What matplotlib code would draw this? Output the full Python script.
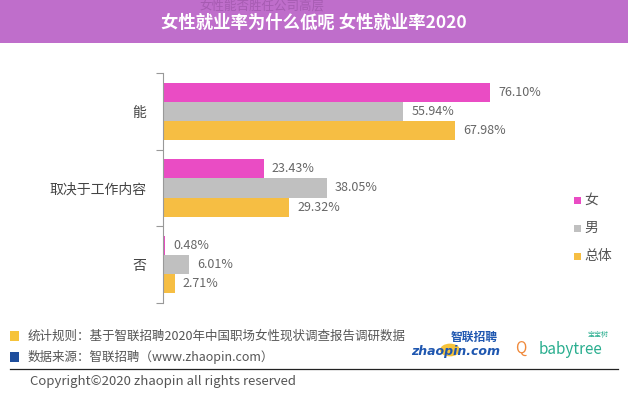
import numpy as np
import matplotlib.pyplot as plt
from matplotlib.patches import Rectangle, Circle

plt.rcParams['font.family'] = ['Noto Sans CJK SC', 'DejaVu Sans']

# data
categories = ['能', '取决于工作内容', '否']
series_names = ['女', '男', '总体']
female = [76.10, 23.43, 0.48]
male = [55.94, 38.05, 6.01]
total = [67.98, 29.32, 2.71]
colors = ['#EA4CC4', '#C0C0C0', '#F6BE43']

W, H = 628, 400
fig = plt.figure(figsize=(W / 100, H / 100), dpi=100)
fig.patch.set_facecolor('white')

# pixel helper for figure coordinates
def fx(x):
    return x / W
def fy(y):
    return 1 - y / H

# title bar
fig.patches.append(Rectangle((0, fy(43)), 1, 43 / H, transform=fig.transFigure,
                             facecolor='#BF6ECB', edgecolor='none', zorder=0))
fig.text(fx(262), fy(6), '女性能否胜任公司高层', color='#8E4A99', alpha=0.5,
         fontsize=9, ha='center', va='center', zorder=1)
fig.text(fx(314), fy(23), '女性就业率为什么低呢 女性就业率2020', color='white',
         fontsize=12.5, fontweight='bold', ha='center', va='center', zorder=2)

# chart axes
px_per_pct = (490 - 163) / 76.10
ax_left, ax_right, ax_top, ax_bot = 163, 545, 73, 303
ax = fig.add_axes([fx(ax_left), fy(ax_bot), (ax_right - ax_left) / W, (ax_bot - ax_top) / H])
ax.set_xlim(0, (ax_right - ax_left) / px_per_pct)
ax.set_ylim(2.5, -0.5)

y = np.arange(len(categories))
h = 0.25
for i, (vals, c) in enumerate(zip([female, male, total], colors)):
    pos = y + (i - 1) * h
    ax.barh(pos, vals, height=h, color=c, edgecolor='none', label=series_names[i])
    for p, v in zip(pos, vals):
        ax.text(v + 8 / px_per_pct, p, f'{v:.2f}%', va='center', ha='left',
                fontsize=9, color='#666666')

for s in ['top', 'right', 'bottom']:
    ax.spines[s].set_visible(False)
ax.spines['left'].set_color('#999999')
ax.spines['left'].set_linewidth(0.8)
ax.set_xticks([])
ax.set_yticks(y)
ax.set_yticklabels(categories, fontsize=10, color='#444444')
ax.tick_params(axis='y', which='major', length=0, pad=12)
ax.set_yticks([-0.5, 0.5, 1.5, 2.5], minor=True)
ax.tick_params(axis='y', which='minor', length=5, color='#999999', width=0.8)

# legend
for k, (name, c) in enumerate(zip(series_names, colors)):
    yy = 200 + k * 28
    fig.patches.append(Rectangle((fx(574), fy(yy + 3.5)), 7 / W, 7 / H,
                                 transform=fig.transFigure, facecolor=c, edgecolor='none'))
    fig.text(fx(584), fy(yy), name, fontsize=10, color='#555555', va='center', ha='left')

# footer notes
fig.patches.append(Rectangle((fx(10), fy(341)), 9 / W, 10 / H, transform=fig.transFigure,
                             facecolor='#F6C33B', edgecolor='none'))
fig.patches.append(Rectangle((fx(10), fy(362)), 9 / W, 10 / H, transform=fig.transFigure,
                             facecolor='#1F4E9C', edgecolor='none'))
fig.text(fx(28), fy(336), '统计规则：基于智联招聘2020年中国职场女性现状调查报告调研数据',
         fontsize=9, color='#555555', va='center', ha='left')
fig.text(fx(28), fy(357), '数据来源：智联招聘（www.zhaopin.com）',
         fontsize=9, color='#555555', va='center', ha='left')
fig.add_artist(plt.Line2D([fx(10), fx(618)], [fy(369), fy(369)], color='#222222', linewidth=0.9))
fig.text(fx(30), fy(381), 'Copyright©2020 zhaopin all rights reserved',
         fontsize=9.5, color='#555555', va='center', ha='left')

# logos (approximated with text)
fig.patches.append(Circle((fx(450), fy(350)), 10 / W, transform=fig.transFigure,
                          facecolor='#F6C33B', edgecolor='none', zorder=1))
fig.text(fx(474), fy(337), '智联招聘', fontsize=8.5, color='#1F57B0', fontweight='bold',
         style='italic', va='center', ha='center', zorder=2)
fig.text(fx(456), fy(351), 'zhaopin.com', fontsize=9, color='#1F57B0', fontweight='bold',
         style='italic', va='center', ha='center', zorder=2, family='DejaVu Sans')
fig.text(fx(521), fy(348), 'Q', fontsize=11, color='#F08A3C', va='center', ha='center')
fig.text(fx(570), fy(349), 'babytree', fontsize=11, color='#2AAE8F', va='center', ha='center')
fig.text(fx(598), fy(335), '宝宝树', fontsize=5, color='#2AAE8F', va='center', ha='center')

fig.savefig('out.png', dpi=100)
